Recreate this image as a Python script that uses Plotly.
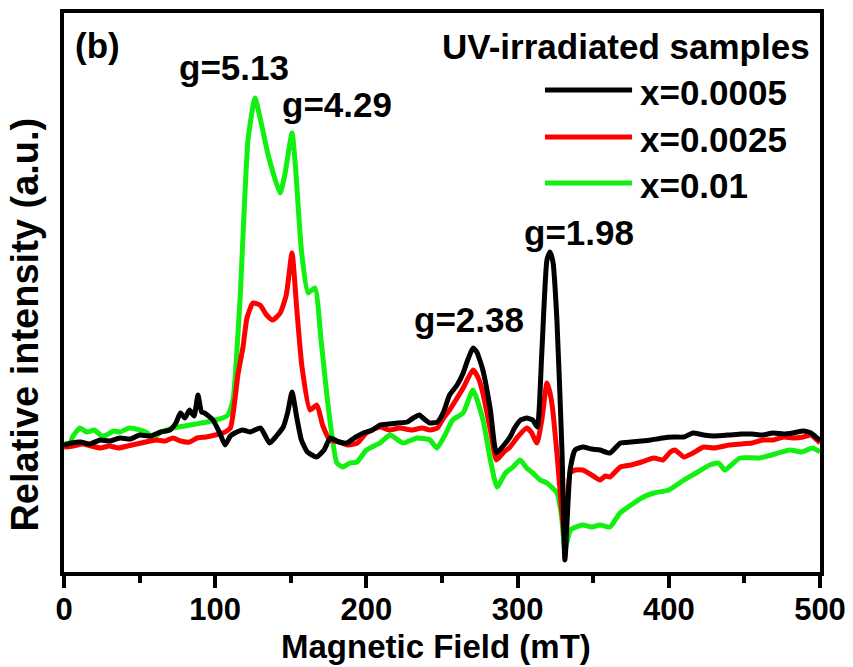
import plotly.graph_objects as go

# ---------------- data ----------------
field_black = [0, 5, 11, 17, 24, 30, 37, 44, 50, 57, 64, 70, 74, 77, 80, 83, 86, 88.6, 91, 93, 98.5, 103, 106.5,
               110, 113, 118, 123, 130, 136, 141, 145, 148, 150.8, 154, 157, 161, 167, 172, 176, 182, 187, 193,
               198, 204, 209, 215, 221, 227, 231, 235, 239, 242, 247, 251, 255, 260, 264, 267, 270.5, 273, 277,
               282, 286, 291, 295, 298, 302, 306, 310, 313, 316, 319.4, 321.4, 323.4, 326, 329.4, 331.3, 334.7,
               338, 343, 349, 354.5, 361, 368, 375, 382, 388, 396, 403, 410, 416, 423, 430, 440, 448, 455, 462,
               469, 476, 482, 489, 494, 498, 500]
int_black = [127, 129, 130, 128, 132, 131, 134, 133, 137, 136, 140, 142, 149, 159, 154, 162, 156, 177, 160, 159, 152,
             139, 127, 136, 139, 142, 140, 144, 129, 137, 145, 160, 180, 154, 132, 120, 115, 122, 134, 130, 129,
             135, 139, 142, 147, 148, 149, 150, 154, 157, 152, 149, 150, 160, 177, 187, 199, 212, 224, 220, 202,
             162, 119, 127, 135, 144, 152, 154, 152, 145, 219, 312, 320, 310, 252, 119, 12, 102, 122, 125, 123,
             122, 119, 129, 130, 131, 132, 134, 135, 135, 139, 137, 136, 137, 138, 138, 137, 139, 138, 139, 141,
             139, 134, 132]

field_red = [0, 6, 12, 18, 24, 30, 36, 42, 48, 54, 61, 67, 72, 77, 83, 88, 94, 100, 105, 110, 113, 115, 118.4, 121,
             125, 129.6, 134, 138, 143, 147, 150.8, 154, 157.4, 162.7, 167.3, 171, 175.9, 182, 188, 194, 200, 209,
             215, 222, 230, 237, 242, 247, 251, 255, 260, 264, 270.5, 274, 277, 282, 286, 291, 295, 300, 306, 309,
             312.8, 316, 319.4, 321, 323, 326, 331.3, 334.7, 338, 343, 349, 354.5, 358, 361, 368, 375, 382, 390,
             396, 401, 404, 410, 416, 423, 430, 440, 448, 455, 462, 469, 476, 482, 489, 494, 498, 500]
int_red = [125, 126, 128, 126, 124, 126, 124, 126, 128, 130, 132, 131, 134, 131, 130, 134, 135, 137, 139, 144, 172,
           197, 225, 254, 269, 267, 257, 252, 259, 277, 319, 262, 205, 162, 167, 147, 132, 130, 127, 129, 139, 145,
           142, 144, 142, 144, 142, 144, 154, 162, 174, 184, 202, 194, 179, 142, 112, 120, 125, 135, 144, 140, 129,
           152, 189, 182, 165, 119, 32, 99, 102, 102, 97, 92, 96, 95, 105, 107, 110, 114, 112, 120, 122, 115, 119,
           125, 124, 127, 128, 129, 132, 132, 135, 134, 135, 137, 132, 129]

field_green = [0, 3, 6, 10.6, 15, 20, 25, 28, 33, 37, 43, 50, 55, 59, 64, 68, 72, 80, 87, 94.5, 100, 105, 108.5,
               111.8, 116.4, 121.7, 126.3, 130, 135, 142.9, 146, 150.8, 153, 157, 161.4, 166, 170, 175, 180.5,
               184.5, 189, 193.8, 200, 209, 215.6, 224.2, 233.5, 242, 246.7, 252, 257, 263.9, 270.5, 277.1, 282,
               286.4, 292, 297, 301.6, 306, 310, 315, 319.4, 326, 329, 331.3, 335, 343, 349, 354.5, 361, 367.7,
               375, 382, 390, 400, 410, 418, 427, 433, 437, 447, 460, 468, 480, 488, 495, 500]
int_green = [130, 125, 136, 144, 140, 142, 136, 137, 141, 140, 144, 142, 139, 134, 140, 142, 144, 146, 148, 150, 152,
             154, 157, 172, 272, 432, 474, 452, 417, 379, 397, 439, 407, 322, 279, 284, 232, 162, 109, 105, 109, 110,
             122, 129, 137, 129, 134, 132, 124, 137, 152, 159, 182, 152, 112, 85, 99, 105, 112, 104, 99, 92, 89, 79,
             57, 22, 42, 47, 45, 47, 45, 59, 67, 74, 79, 82, 92, 99, 107, 109, 102, 114, 114, 117, 122, 120, 124,
             120]

series_names = ["x=0.0005", "x=0.0025", "x=0.01"]
series_colors = ["#000000", "#ff0000", "#11f011"]
x_ticks = [0, 100, 200, 300, 400, 500]
peak_labels = ["g=5.13", "g=4.29", "g=2.38", "g=1.98"]
panel_label = "(b)"
legend_title = "UV-irradiated samples"
x_title = "Magnetic Field (mT)"
y_title = "Relative intensity (a.u.)"

FONT = "Liberation Sans, Arial, sans-serif"

fig = go.Figure()
traces = []
for fx, fy, name, col in zip([field_black, field_red, field_green], [int_black, int_red, int_green],
                             series_names, series_colors):
    traces.append(go.Scatter(x=fx, y=fy, mode="lines", name=name,
                             line=dict(color=col, width=5, shape="spline", smoothing=0.5),
                             showlegend=False))
# black drawn last so it sits on top, as in the reference
for tr in reversed(traces):
    fig.add_trace(tr)

annos = []
def txt(t, x, y, xanchor="left", size=35):
    annos.append(dict(text=t, x=x, y=y, xref="x", yref="y", xanchor=xanchor, yanchor="middle",
                      showarrow=False, font=dict(family=FONT, size=size, color="black", weight="bold")))

txt(panel_label, 6, 527)
txt(peak_labels[0], 74.7, 505)
txt(peak_labels[1], 142.9, 468)
txt(peak_labels[2], 230.2, 253)
txt(peak_labels[3], 302.9, 340)
txt(legend_title, 495, 526, xanchor="right")

legend_y = [482, 435, 389]
shapes = []
for yy, name, col in zip(legend_y, series_names, series_colors):
    shapes.append(dict(type="line", xref="x", yref="y", x0=318.1, x1=375.7, y0=yy, y1=yy,
                       line=dict(color=col, width=5)))
    txt(name, 379.6, yy - 2)

# axis titles (placed as paper-anchored text to match the reference positions)
annos.append(dict(text=x_title, xref="paper", yref="paper", x=0.492, y=-0.1324, xanchor="center",
                  yanchor="middle", showarrow=False,
                  font=dict(family=FONT, size=33, color="black", weight="bold")))
annos.append(dict(text=y_title, xref="paper", yref="paper", x=-0.052, y=0.442, xanchor="center",
                  yanchor="middle", textangle=-90, showarrow=False,
                  font=dict(family=FONT, size=38, color="black", weight="bold")))

fig.update_layout(
    width=853, height=667,
    margin=dict(l=64, r=33, t=13, b=95, autoexpand=False),
    paper_bgcolor="white", plot_bgcolor="white",
    annotations=annos, shapes=shapes,
    font=dict(family=FONT, color="black"),
)
fig.update_xaxes(
    range=[0, 500], tickvals=x_ticks, ticks="outside", ticklen=12, tickwidth=4, tickcolor="black",
    minor=dict(dtick=50, tick0=0, ticks="outside", ticklen=7, tickwidth=4, tickcolor="black"),
    showline=True, linewidth=4, linecolor="black", mirror=True, showgrid=False, zeroline=False,
    automargin=False, ticklabelstandoff=-5,
    tickfont=dict(family=FONT, size=31, color="black", weight="bold"),
)
fig.update_yaxes(
    range=[0, 559], showticklabels=False, ticks="",
    showline=True, linewidth=4, linecolor="black", mirror=True, showgrid=False, zeroline=False,
    automargin=False,
)

fig.write_html("out.html")
